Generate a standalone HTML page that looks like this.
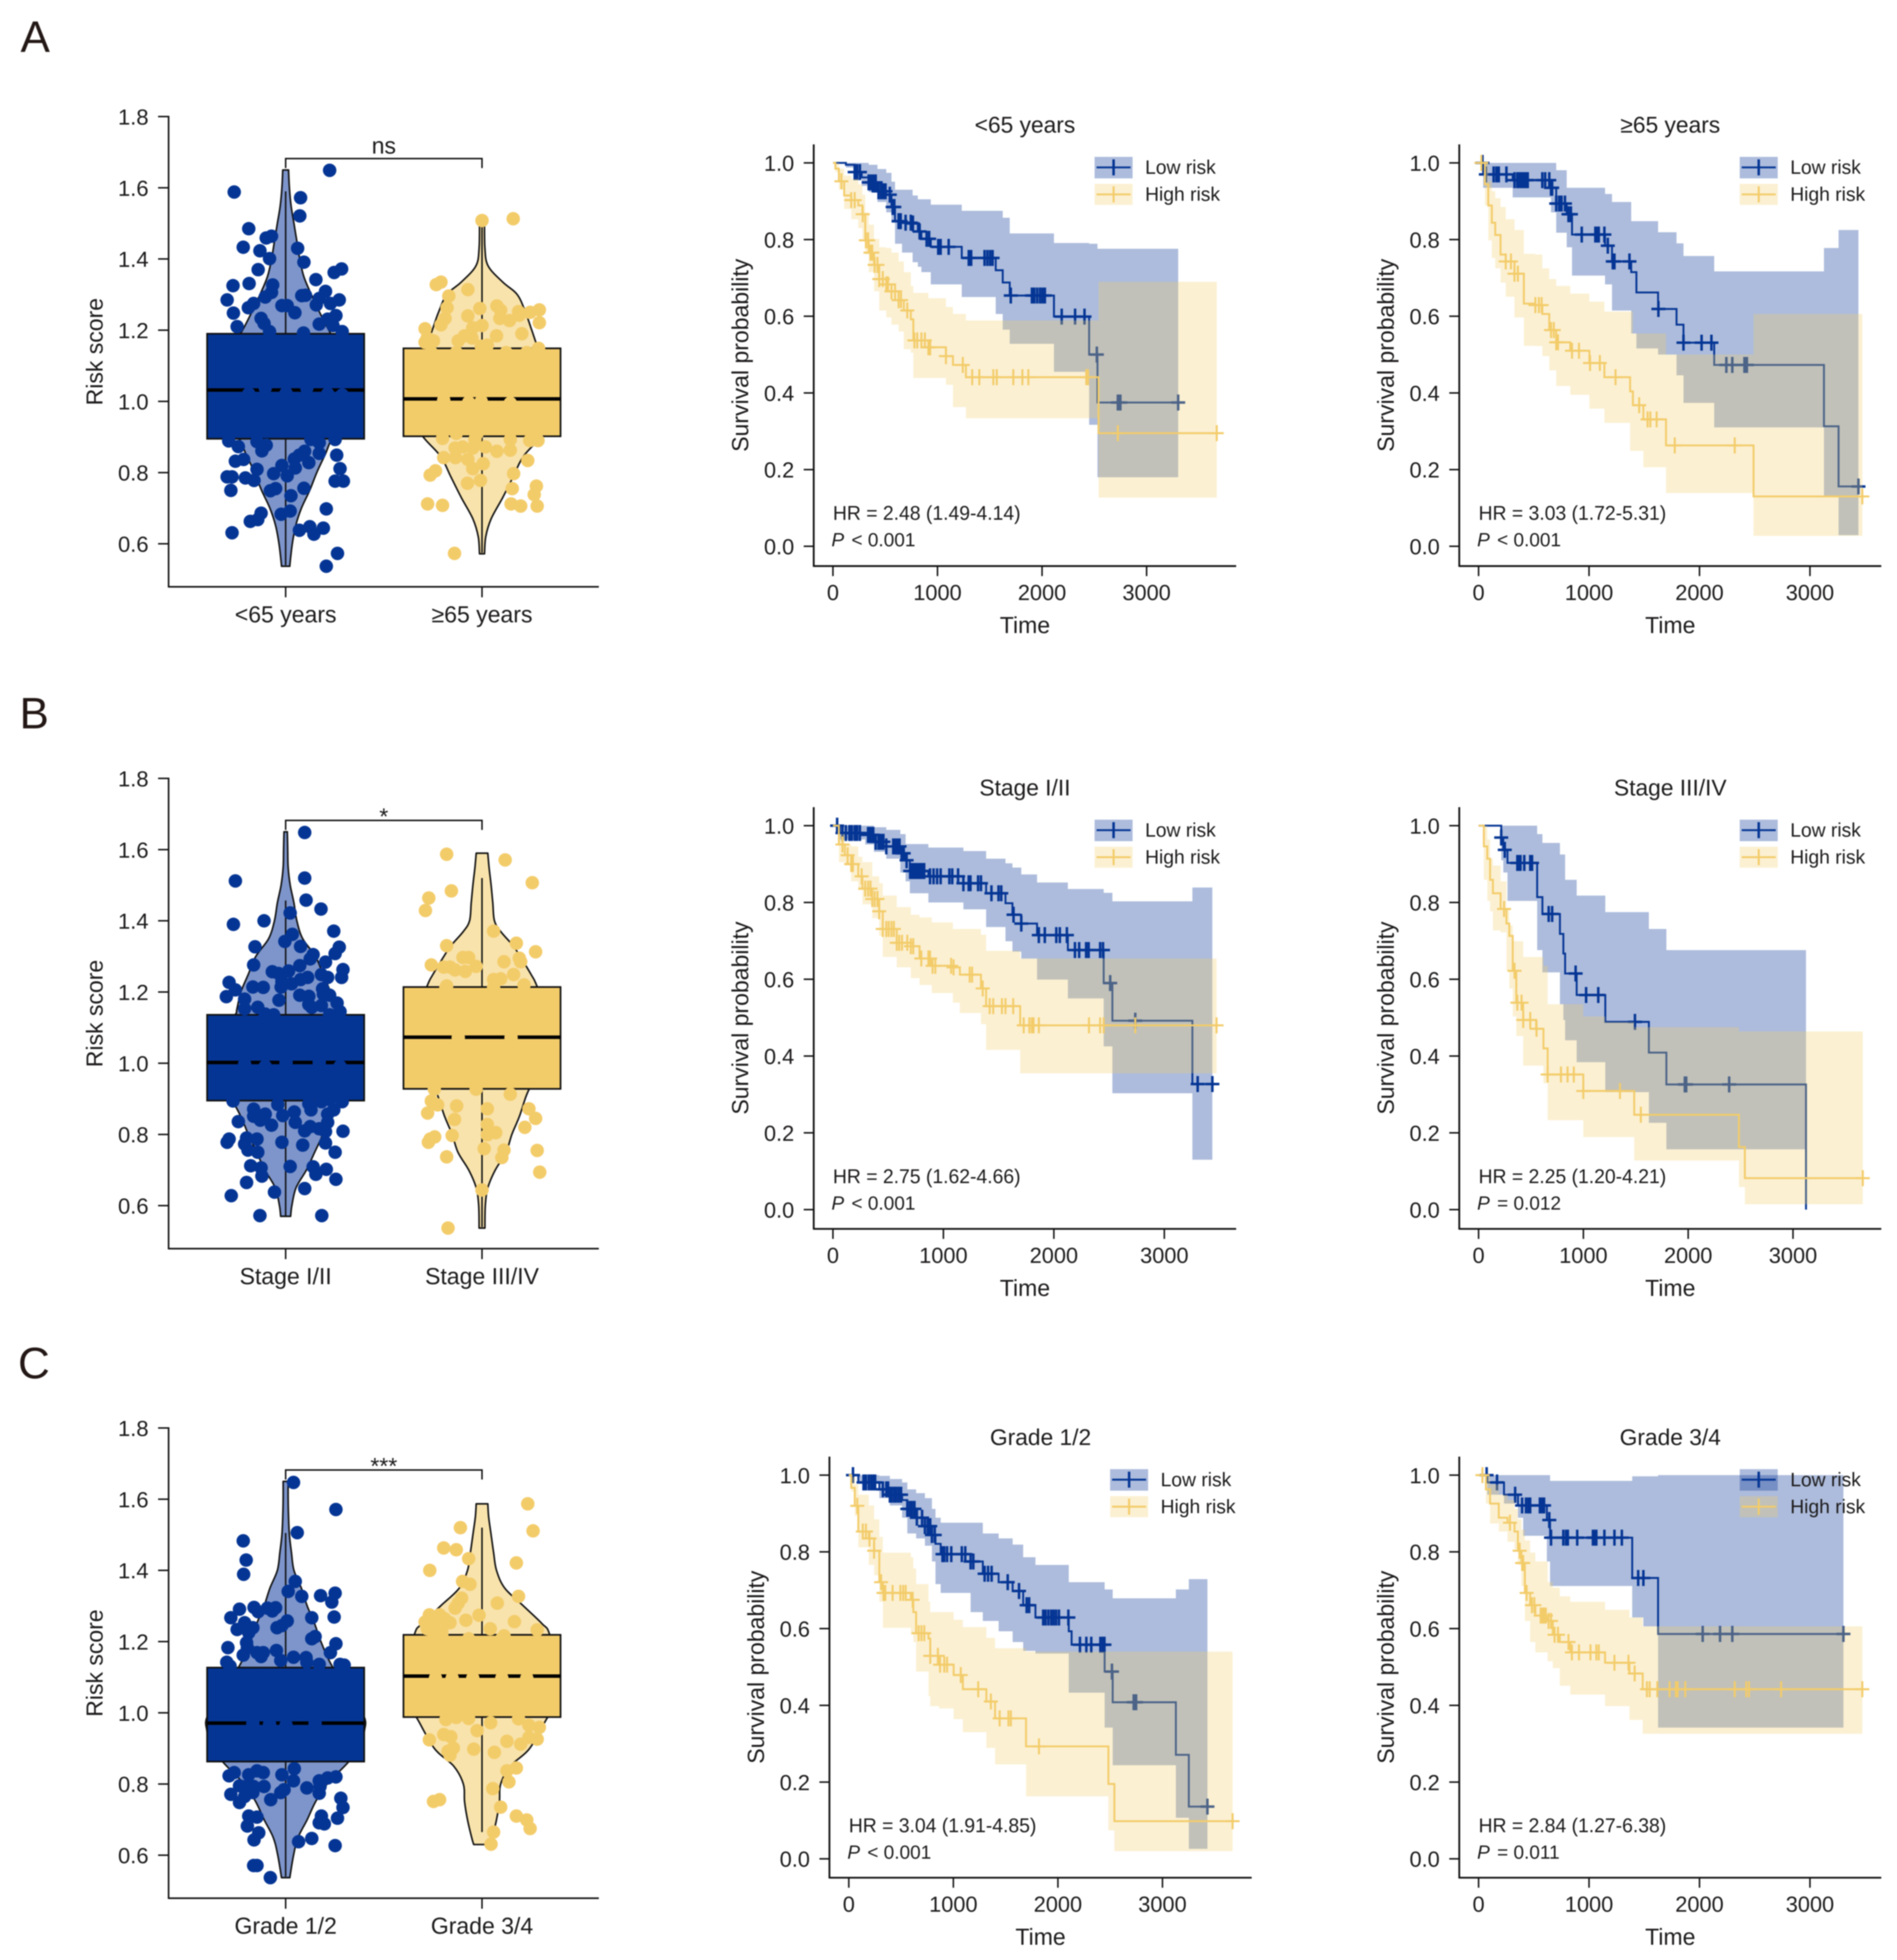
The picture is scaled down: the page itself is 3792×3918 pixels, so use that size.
<!DOCTYPE html>
<html lang="en">
<head>
<meta charset="utf-8">
<title>Risk score and survival by subgroup</title>
<style>
html,body{margin:0;padding:0;background:#fff;}
svg{display:block;filter:blur(1px);}
text{font-family:"Liberation Sans",Arial,sans-serif;fill:#1c1a1a;}
</style>
</head>
<body>
<svg id="figure" xmlns="http://www.w3.org/2000/svg" width="3792" height="3918" viewBox="0 0 3792 3918">
<rect x="0" y="0" width="3792" height="3918" fill="#ffffff"/>
</svg>
<script>
/* ---------- shared ticks and labels ---------- */
const scoreTicks = [0.6, 0.8, 1.0, 1.2, 1.4, 1.6, 1.8];
const survTicks = [0, 0.2, 0.4, 0.6, 0.8, 1.0];
const timeTicks = [0, 1000, 2000, 3000];
const legendLabels = ['Low risk', 'High risk'];
const categoriesA = ['<65 years', '\u226565 years'];
const categoriesB = ['Stage I/II', 'Stage III/IV'];
const categoriesC = ['Grade 1/2', 'Grade 3/4'];

/* ---------- box plot summaries: [q1, median, q3] ---------- */
const boxA1 = [0.895, 1.032, 1.19];
const boxA2 = [0.902, 1.007, 1.149];
const boxB1 = [0.895, 1.002, 1.136];
const boxB2 = [0.928, 1.073, 1.214];
const boxC1 = [0.863, 0.971, 1.127];
const boxC2 = [0.988, 1.103, 1.219];
/* whiskers: [low, high] */
const whiskerA1 = [0.54, 1.59];
const whiskerA2 = [0.575, 1.51];
const whiskerB1 = [0.57, 1.457];
const whiskerB2 = [0.54, 1.52];
const whiskerC1 = [0.54, 1.505];
const whiskerC2 = [0.665, 1.52];

/* ---------- violin density profiles ---------- */
const violinLevelA1 = [1.65,1.6,1.55,1.5,1.45,1.4,1.35,1.3,1.25,1.2,1.15,1.1,1.05,1.0,.95,.9,.85,.8,.75,.7,.65,.6,.55,.537];
const violinDensityA1 = [7,9,13,20,27,34,44,62,82,104,130,150,165,170,160,115,95,75,58,38,24,16,11,10];
const violinLevelA2 = [1.508,1.43,1.38,1.335,1.3,1.25,1.2,1.15,1.1,1.0,.95,.902,.846,.788,.73,.67,.62,.572];
const violinDensityA2 = [6,7,15,50,85,105,120,135,155,170,160,143,100,75,50,22,9,6];
const violinLevelB1 = [1.65,1.6,1.55,1.5,1.45,1.4,1.35,1.3,1.25,1.2,1.15,1.135,1.05,1.0,.95,.895,.85,.8,.75,.7,.65,.6,.57];
const violinDensityB1 = [4,5,6,11,20,27,41,72,90,108,118,122,165,175,170,130,108,90,70,50,25,15,12];
const violinLevelB2 = [1.59,1.55,1.5,1.45,1.4,1.37,1.33,1.3,1.25,1.215,1.1,1.0,.93,.85,.8,.75,.7,.65,.6,.537];
const violinDensityB2 = [14,17,22,26,30,45,75,92,118,133,170,160,115,90,72,58,32,14,8,7];
const violinLevelC1 = [1.65,1.6,1.55,1.5,1.45,1.4,1.35,1.3,1.25,1.2,1.125,1.0,.95,.9,.86,.8,.75,.7,.65,.6,.537];
const violinDensityC1 = [6,6,7,9,14,20,38,52,70,85,115,185,190,175,150,100,72,52,30,19,10];
const violinLevelC2 = [1.587,1.55,1.5,1.45,1.4,1.35,1.3,1.25,1.22,1.1,1.0,.985,.9,.85,.8,.75,.7,.65,.63];
const violinDensityC2 = [14,16,22,28,35,55,100,145,163,185,170,157,115,68,45,42,35,25,20];

/* ---------- scatter points: horizontal jitter (category units) and risk score ---------- */
const jitterA1 = [-.262,.224,.076,.072,-.188,-.216,-.099,-.072,-.131,.061,-.082,.093,-.14,.285,.247,.154,-.268,-.186,-.066,-.072,-.104,.203,.101,.082,-.298,.273,.228,.171,.156,-.019,.008,-.163,-.19,-.266,.047,.256,-.125,-.11,-.247,.214,.171,.241,.091,-.082,.288,-.29,-.241,-.146,-.099,-.121,.129,.171,.252,.097,.171,.26,.07,.044,-.214,-.256,.118,-.019,.277,.049,-.146,-.061,.008,-.298,-.273,-.205,-.161,.252,.294,.093,-.051,-.078,-.279,.027,.207,.023,-.125,-.023,-.142,-.18,.192,.123,.07,.144,-.273,.264,.207,-.188,.002,.214,.288,-.104,.108];
const scoreA1 = [1.588,1.649,1.572,1.521,1.485,1.433,1.459,1.464,1.423,1.43,1.401,1.391,1.37,1.372,1.362,1.342,1.325,1.331,1.327,1.306,1.293,1.309,1.298,1.297,1.285,1.285,1.275,1.289,1.271,1.269,1.269,1.275,1.263,1.248,1.249,1.241,1.233,1.219,1.21,1.231,1.217,1.213,1.192,1.196,1.196,.889,.873,.887,.877,.861,.893,.884,.893,.86,.854,.849,.849,.838,.837,.832,.828,.82,.811,.813,.809,.797,.791,.788,.788,.785,.778,.776,.776,.756,.755,.749,.75,.735,.698,.692,.686,.683,.668,.663,.644,.648,.638,.627,.631,.573,.537,1.021,1.023,1.021,1.018,1.038,1.038];
const jitterA2 = [0,.159,-.209,-.233,-.072,-.169,-.178,-.011,.076,.095,.292,.245,.186,.19,-.072,-.188,.091,.14,-.209,-.29,.292,0,-.047,.203,.074,-.279,-.247,-.121,-.051,-.089,-.004,.027,.288,-.29,-.201,-.036,.243,.285,.144,.144,-.099,-.137,-.047,.017,.076,-.195,-.135,-.072,.233,.006,-.047,-.237,-.264,.161,-.074,-.008,.277,.154,.266,-.277,-.201,.148,.197,.281,-.14,-.195,-.068,.144,-.004,-.258,-.131,.123,.228,.027,-.131,-.025];
const scoreA2 = [1.508,1.513,1.335,1.328,1.314,1.296,1.263,1.261,1.268,1.256,1.257,1.25,1.252,1.242,1.24,1.233,1.233,1.227,1.215,1.204,1.221,1.213,1.207,1.19,1.184,1.178,1.17,1.17,1.178,1.184,1.155,1.158,1.149,1.166,.896,.893,.89,.89,.893,.863,.872,.869,.869,.872,.86,.842,.842,.837,.834,.825,.811,.805,.793,.797,.77,.778,.762,.755,.738,.712,.708,.712,.706,.706,.573,1.003,.997,.995,1.0,1.137,1.137,1.137,1.137,1.137,.91,.91];
const jitterB1 = [.097,-.256,.097,.104,.18,.023,-.11,-.266,.245,.034,-.004,.273,-.156,.076,.252,.14,.125,.203,-.163,.072,.292,.015,-.068,-.036,.182,.214,.285,.112,.076,-.019,.03,-.023,-.288,-.256,-.167,-.114,.188,-.302,.192,.224,.072,.118,-.209,-.034,.262,.118,.182,.133,-.209,-.142,.277,-.104,-.061,.224,-.268,.224,.288,.182,.118,-.04,-.163,.245,.044,.129,-.163,-.104,-.015,.214,-.129,-.241,-.072,.049,.214,.125,.171,.203,.097,.292,-.288,-.298,-.199,-.146,-.019,-.209,.087,.203,-.192,-.142,.252,-.178,.023,.14,.207,-.125,.154,-.121,.256,-.199,.097,-.057,-.277,-.131,.184,-.209,.002,.171,-.104,.277];
const scoreB1 = [1.648,1.512,1.52,1.458,1.433,1.422,1.4,1.39,1.371,1.362,1.342,1.326,1.327,1.328,1.308,1.305,1.293,1.284,1.276,1.274,1.263,1.259,1.257,1.252,1.249,1.241,1.241,1.241,1.235,1.229,1.223,1.214,1.227,1.206,1.214,1.213,1.209,1.187,1.194,1.191,1.191,1.188,1.18,1.177,1.169,1.165,1.162,1.157,1.153,1.157,1.145,1.138,1.136,1.136,.894,.898,.892,.892,.886,.884,.871,.869,.863,.869,.851,.857,.853,.857,.84,.836,.826,.834,.834,.822,.816,.808,.81,.809,.787,.778,.79,.787,.778,.773,.77,.776,.756,.75,.75,.712,.71,.709,.702,.706,.688,.683,.674,.665,.648,.638,.628,.572,.572,.997,1.002,1.002,.991,.991];
const jitterB2 = [-.18,.118,.256,-.156,-.271,-.288,.059,.175,-.18,.273,-.068,-.097,.19,.197,.112,-.258,-.195,-.163,-.137,-.085,-.03,.161,.059,.095,.214,-.18,.144,-.03,-.243,-.258,-.226,.027,-.129,.239,-.277,.273,-.14,.027,.218,.07,.027,-.152,-.241,-.264,-.273,.011,.112,.281,.101,-.18,.294,0,-.173,-.121,.148,-.184,.059];
const scoreB2 = [1.587,1.571,1.507,1.484,1.464,1.429,1.371,1.337,1.33,1.313,1.297,1.297,1.295,1.285,1.285,1.276,1.27,1.27,1.262,1.258,1.272,1.249,1.235,1.237,1.22,1.217,.913,.927,.927,.894,.883,.872,.88,.872,.86,.845,.842,.828,.82,.805,.799,.797,.793,.787,.778,.76,.756,.755,.735,.737,.694,.644,.537,1.072,1.072,1.212,1.212];
const jitterC1 = [.04,.256,.059,-.216,-.201,-.214,.049,.252,.013,.178,.082,.235,-.235,-.161,-.093,-.051,-.068,-.14,.247,-.279,.133,.008,-.209,-.019,-.167,-.044,-.247,-.188,.133,.15,-.199,.256,-.294,-.195,-.146,-.114,-.047,-.216,-.125,.228,.04,.104,-.3,-.025,.171,.108,.277,.298,-.283,-.262,-.288,-.188,-.146,-.114,.044,-.019,.256,.214,.171,.04,-.188,-.235,-.11,-.163,.108,.175,-.008,-.025,-.167,-.279,.171,-.209,-.076,-.235,.281,.292,-.188,-.146,.182,.264,.171,.197,-.195,-.137,-.161,.133,.066,.252,-.163,-.146,-.078,-.167,-.082,.15,.002];
const scoreC1 = [1.647,1.571,1.506,1.483,1.429,1.389,1.369,1.336,1.341,1.329,1.327,1.311,1.291,1.296,1.294,1.295,1.286,1.284,1.269,1.267,1.267,1.258,1.253,1.245,1.239,1.239,1.234,1.225,1.208,1.214,1.197,1.194,1.183,1.183,1.169,1.169,1.175,1.162,1.158,1.169,1.156,1.155,1.142,1.147,1.136,1.142,1.136,1.134,1.131,.832,.823,.826,.837,.832,.843,.826,.82,.817,.809,.809,.798,.795,.793,.793,.789,.793,.784,.776,.776,.771,.774,.765,.756,.748,.76,.734,.71,.707,.71,.704,.691,.688,.682,.663,.643,.647,.638,.627,.571,.571,.537,.97,.968,.97,.965];
const jitterC2 = [.233,-.11,.26,-.195,-.131,-.068,.175,-.266,-.099,-.061,.186,-.104,-.121,.078,-.137,-.015,-.268,-.216,-.19,-.29,-.082,-.163,.165,-.247,.042,.281,-.205,-.279,-.247,.112,-.205,-.184,-.131,-.068,.044,.186,.239,.292,-.025,-.195,-.159,.239,.281,-.268,.127,.197,-.146,-.173,-.163,-.042,.063,.175,.127,.137,.055,-.216,-.247,.095,.175,.228,.245,.059,.046,-.237,-.047,.101,.228,-.152,-.068,.101,-.152];
const scoreC2 = [1.587,1.52,1.511,1.463,1.458,1.433,1.421,1.4,1.369,1.361,1.327,1.322,1.308,1.308,1.294,1.274,1.275,1.275,1.264,1.255,1.26,1.253,1.256,1.245,1.236,1.233,1.23,1.236,1.225,1.216,1.219,.981,.987,.984,.972,.983,.965,.959,.95,.939,.933,.931,.926,.924,.92,.912,.901,.892,.881,.898,.889,.845,.837,.806,.787,.756,.751,.735,.71,.699,.675,.665,.631,1.097,1.097,1.097,1.097,1.097,1.208,1.208,.992];

/* ---------- Kaplan-Meier curves: event times, survival, CI bounds, censor times ---------- */
const a2LowTime = [0,124,208,275,342,426,510,560,594,661,762,812,846,936,1232,1557,1624,1691,2114,2450,2530];
const a2LowSurv = [1,.995,.976,.962,.949,.926,.917,.885,.848,.844,.842,.821,.802,.781,.752,.72,.688,.654,.599,.5,.375];
const a2LowUpper = [1,1,1,1,.995,.984,.974,.951,.93,.93,.915,.905,.905,.891,.875,.875,.857,.816,.791,.789,.776];
const a2LowLower = [1,.988,.967,.94,.924,.898,.871,.844,.789,.766,.741,.729,.715,.683,.65,.606,.565,.528,.455,.317,.18];
const a2LowCensor = [208,232,258,342,366,389,409,436,460,483,503,544,571,587,628,648,695,745,765,829,896,920,1007,1030,1107,1299,1322,1450,1477,1503,1527,1701,1903,1926,1953,1980,2004,2027,2188,2316,2406,2524,2725,2749,3302];
const a2HighTime = [0,23,57,107,175,242,282,309,342,393,443,510,560,628,678,745,769,913,1081,1148,1272,2540];
const a2HighSurv = [1,.985,.952,.915,.903,.889,.866,.798,.766,.734,.697,.683,.665,.642,.615,.592,.537,.519,.496,.473,.441,.295];
const a2HighUpper = [1,1,.985,.967,.958,.944,.917,.871,.839,.802,.78,.778,.766,.743,.715,.679,.661,.647,.624,.606,.589,.69];
const a2HighLower = [1,.976,.93,.88,.853,.83,.802,.761,.715,.665,.615,.597,.578,.56,.514,.505,.439,.439,.421,.363,.334,.127];
const a2HighCensor = [81,175,208,285,315,336,359,376,399,426,443,477,510,527,560,594,628,651,711,779,806,846,879,913,930,1081,1242,1332,1400,1534,1567,1725,1812,1869,2423,2440,2725,3671];

const a3LowTime = [0,41,309,656,703,798,846,1145,1208,1382,1429,1625,1792,1855,2133,3127,3259];
const a3LowSurv = [1,.97,.955,.935,.894,.866,.813,.784,.743,.715,.662,.619,.578,.531,.473,.313,.156];
const a3LowUpper = [1,1,1,1,.981,.935,.935,.919,.898,.848,.848,.819,.79,.757,.717,.778,.825];
const a3LowLower = [1,.935,.91,.871,.818,.78,.706,.683,.615,.555,.516,.5,.446,.374,.31,.13,.029];
const a3LowCensor = [35,66,136,161,183,252,325,350,366,382,398,413,429,445,577,603,640,656,666,703,729,751,782,814,836,934,1057,1076,1088,1139,1170,1215,1230,1366,1628,1855,2019,2108,2243,2297,2407,2429,3439];
const a3HighTime = [0,57,88,120,151,199,246,325,410,514,577,640,703,830,1003,1139,1372,1397,1492,1697,2489];
const a3HighSurv = [1,.944,.889,.844,.812,.761,.743,.711,.633,.629,.606,.564,.532,.51,.478,.441,.404,.368,.331,.263,.13];
const a3HighUpper = [1,1,.953,.926,.908,.885,.853,.825,.763,.761,.725,.697,.679,.659,.638,.612,.612,.555,.555,.5,.606];
const a3HighLower = [1,.889,.798,.752,.725,.688,.651,.597,.523,.522,.496,.459,.418,.395,.359,.322,.249,.249,.206,.139,.027];
const a3HighCensor = [25,246,293,325,356,514,546,571,656,681,703,719,846,909,1009,1098,1240,1454,1530,1555,1612,1776,2319,3474];

const b2LowTime = [0,64,292,371,483,610,658,696,864,1181,1387,1562,1625,1705,1848,2127,2451,2530,3254];
const b2LowSurv = [1,.981,.976,.958,.946,.928,.91,.882,.868,.85,.824,.798,.768,.745,.715,.676,.59,.492,.327];
const b2LowUpper = [1,1,1,.996,.989,.978,.952,.952,.943,.934,.914,.902,.891,.873,.852,.835,.825,.803,.839];
const b2LowLower = [1,.964,.951,.932,.914,.878,.855,.824,.8,.782,.736,.699,.672,.654,.599,.55,.425,.303,.13];
const b2LowCensor = [38,86,117,149,171,197,219,244,318,333,349,365,387,413,435,457,483,546,565,584,603,622,641,667,699,714,730,746,762,778,794,810,826,879,911,943,975,1054,1080,1133,1181,1229,1245,1314,1340,1435,1499,1524,1635,1705,1864,1918,2022,2054,2118,2191,2229,2292,2315,2419,2445,2510,2737,3302,3435];
const b2HighTime = [0,54,108,165,229,267,356,419,451,578,705,784,895,1086,1149,1340,1387,1695];
const b2HighSurv = [1,.951,.923,.9,.868,.836,.809,.777,.731,.695,.686,.654,.635,.631,.612,.576,.53,.48];
const b2HighUpper = [1,.978,.951,.946,.919,.905,.868,.85,.818,.788,.768,.761,.748,.731,.731,.716,.674,.654];
const b2HighLower = [1,.905,.896,.855,.832,.795,.759,.713,.658,.631,.603,.585,.564,.539,.512,.483,.416,.355];
const b2HighCensor = [86,133,165,181,260,292,318,340,356,378,403,419,451,483,505,530,552,578,600,625,673,705,727,800,864,879,902,927,1070,1092,1238,1260,1356,1419,1451,1530,1562,1632,1727,1778,1800,1816,1864,2318,2419,2451,2737,3473];

const b3LowTime = [0,216,236,276,559,609,776,809,826,936,1209,1625,1792,2484,3124];
const b3LowSurv = [1,.969,.937,.903,.814,.77,.718,.667,.615,.559,.489,.409,.326,.326,0];
const b3LowUpper = [1,1,1,1,.978,.955,.925,.925,.859,.818,.775,.731,.676,.676,.676];
const b3LowLower = [1,.91,.878,.804,.676,.618,.535,.494,.441,.384,.306,.226,.157,.157,.157];
const b3LowCensor = [216,250,370,386,400,436,493,510,669,702,926,1026,1142,1492,1968,1981,2391];
const b3HighTime = [0,50,83,110,137,210,266,293,326,360,426,549,619,659,999,1209,1485,2484,2541];
const b3HighSurv = [1,.946,.914,.859,.824,.783,.745,.713,.622,.539,.494,.471,.42,.352,.309,.309,.247,.163,.082];
const b3HighUpper = [1,1,.964,.914,.896,.855,.786,.74,.699,.699,.658,.658,.635,.535,.503,.489,.475,.464,.464];
const b3HighLower = [1,.859,.804,.777,.727,.722,.622,.576,.503,.452,.375,.375,.329,.233,.189,.189,.128,.059,.014];
const b3HighCensor = [243,343,370,410,426,493,553,659,786,849,909,999,1349,1548,3666];

const c2LowTime = [0,91,292,393,510,560,644,728,795,829,879,1165,1282,1433,1567,1668,1785,2104,2131,2447,2524,3128,3252];
const c2LowSurv = [1,.981,.963,.949,.935,.912,.889,.867,.844,.821,.794,.775,.743,.721,.698,.661,.629,.593,.558,.488,.408,.271,.136];
const c2LowUpper = [1,1,.998,.99,.981,.963,.953,.94,.912,.889,.876,.876,.848,.835,.819,.786,.766,.721,.721,.702,.679,.702,.729];
const c2LowLower = [1,.981,.94,.921,.889,.848,.835,.816,.775,.716,.693,.643,.62,.593,.565,.542,.535,.433,.433,.342,.244,.107,.026];
const c2LowCensor = [40,141,164,191,215,232,252,326,359,376,393,409,433,453,477,500,560,584,604,628,651,701,728,755,779,795,822,896,913,940,980,1081,1114,1165,1191,1299,1332,1366,1520,1628,1701,1725,1859,1882,1909,1936,1959,1983,2010,2100,2211,2272,2319,2406,2430,2445,2517,2725,2748,3430];
const c2HighTime = [0,23,57,91,191,242,292,326,594,617,644,762,779,863,1003,1091,1316,1399,1695,2483,2540];
const c2HighSurv = [1,.967,.92,.853,.835,.803,.721,.693,.675,.643,.588,.574,.529,.506,.479,.442,.41,.366,.293,.195,.098];
const c2HighUpper = [1,.995,.976,.949,.921,.885,.839,.798,.786,.757,.716,.67,.643,.643,.623,.604,.576,.549,.54,.54,.54];
const c2HighLower = [1,.958,.894,.812,.766,.739,.67,.602,.584,.565,.488,.424,.398,.392,.364,.33,.289,.246,.163,.074,.02];
const c2HighCensor = [81,134,164,198,242,309,332,349,419,493,520,544,611,668,695,722,779,852,873,913,940,1071,1238,1359,1443,1527,1550,1819,3671];

const c3LowTime = [0,79,230,357,404,618,647,1391,1492,1625];
const c3LowSurv = [1,.981,.949,.921,.921,.883,.837,.732,.732,.586];
const c3LowUpper = [1,1,1,1,1,1,.985,.997,.997,1];
const c3LowLower = [1,.949,.926,.889,.842,.775,.711,.629,.606,.342];
const c3LowCensor = [73,167,331,394,429,451,467,555,577,593,640,656,767,792,808,893,1035,1050,1066,1139,1230,1297,1445,1492,2029,2186,2297,3303];
const c3HighTime = [0,66,104,183,262,325,356,388,419,467,514,625,672,735,830,1145,1366,1486];
const c3HighSurv = [1,.963,.926,.889,.876,.853,.803,.771,.693,.661,.634,.62,.584,.565,.538,.511,.483,.442];
const c3HighUpper = [1,1,.976,.949,.935,.912,.885,.858,.83,.798,.775,.721,.707,.684,.67,.649,.629,.606];
const c3HighLower = [1,.926,.874,.853,.826,.807,.766,.711,.62,.565,.538,.515,.497,.451,.428,.398,.362,.326];
const c3HighCensor = [35,284,372,394,404,435,483,505,562,577,593,609,634,656,688,719,814,845,909,1013,1066,1088,1230,1357,1413,1524,1549,1618,1729,1786,1802,1871,2319,2423,2448,2739,3474];

/* ---------- drawing helpers ---------- */
const SVGNS = 'http://www.w3.org/2000/svg';
const BLUE = '#053594';
const YELLOW = '#F3CC6A';
const INK = '#111111';
const root = document.getElementById('figure');

function mk(tag, parent, name, styles) {
  const el = document.createElementNS(SVGNS, tag);
  
  
  for (const k in styles) { el.setAttribute(k, styles[k]); }
  parent.appendChild(el);
  return el;
}
function label(parent, name, str, styles) {
  const el = mk('text', parent, name, styles);
  el.textContent = str;
  return el;
}
function seg(parent, name, x1, y1, x2, y2, w, color) {
  return mk('line', parent, name, {x1: x1, y1: y1, x2: x2, y2: y2, stroke: color || INK, 'stroke-width': w || 3});
}
function smoothSide(pts) {
  let d = '';
  for (let i = 0; i < pts.length - 1; i++) {
    const p0 = pts[Math.max(0, i - 1)], p1 = pts[i], p2 = pts[i + 1], p3 = pts[Math.min(pts.length - 1, i + 2)];
    const c1x = p1[0] + (p2[0] - p0[0]) / 6, c1y = p1[1] + (p2[1] - p0[1]) / 6;
    const c2x = p2[0] - (p3[0] - p1[0]) / 6, c2y = p2[1] - (p3[1] - p1[1]) / 6;
    d += 'C' + c1x.toFixed(1) + ' ' + c1y.toFixed(1) + ' ' + c2x.toFixed(1) + ' ' + c2y.toFixed(1) + ' ' + p2[0].toFixed(1) + ' ' + p2[1].toFixed(1);
  }
  return d;
}

/* ---------- violin + box + jitter panel ---------- */
function drawBoxPanel(o) {
  const g = mk('g', root, o.id + '-risk-score-panel', {});
  const y = v => o.top + (1.8 - v) * 711.7;
  const cx = [571, 963.5];
  const step = cx[1] - cx[0];
  const densityPx = d => d * 0.829;
  const axisY = o.top + 940;

  o.groups.forEach((grp, i) => {
    const col = i === 0 ? BLUE : YELLOW;
    const soft = i === 0 ? '#7D95CB' : '#F8E3AC';
    const gg = mk('g', g, 'group-' + (i + 1) + '-distribution', {});
    const right = grp.levels.map((v, k) => [cx[i] + densityPx(grp.density[k]), y(v)]);
    const left = grp.levels.map((v, k) => [cx[i] - densityPx(grp.density[k]), y(v)]).reverse();
    const d = 'M' + right[0][0] + ' ' + right[0][1] + smoothSide(right) + 'L' + left[0][0] + ' ' + left[0][1] + smoothSide(left) + 'Z';
    mk('path', gg, 'violin-outline', {d: d, fill: soft, stroke: INK, 'stroke-width': 3.2, 'stroke-linejoin': 'round'});
    seg(gg, 'whisker', cx[i], y(grp.whisker[0]), cx[i], y(grp.whisker[1]), 3, INK);
    const hw = 157;
    mk('rect', gg, 'box-iqr', {x: cx[i] - hw, y: y(grp.box[2]), width: hw * 2, height: y(grp.box[0]) - y(grp.box[2]), fill: col, stroke: INK, 'stroke-width': 3.4});
    seg(gg, 'median-line', cx[i] - hw, y(grp.box[1]), cx[i] + hw, y(grp.box[1]), 7, '#000000');
    grp.jitter.forEach((j, k) => {
      mk('circle', gg, 'risk-point', {cx: cx[i] + j * step, cy: y(grp.score[k]), r: 13.5, fill: col});
    });
  });

  /* axes */
  seg(g, 'y-axis-line', 337, y(1.8) - 1.5, 337, axisY + 1.5, 3.2);
  seg(g, 'x-axis-line', 337, axisY, 1197, axisY, 3.2);
  scoreTicks.forEach(v => {
    seg(g, 'y-tick', 316, y(v), 337, y(v), 3);
    label(g, 'y-tick-label', v.toFixed(1), {x: 297, y: y(v) + 16, 'text-anchor': 'end', 'font-size': 44});
  });
  cx.forEach((x, i) => {
    seg(g, 'x-tick', x, axisY, x, axisY + 21, 3);
    label(g, 'x-tick-label', o.categories[i], {x: x, y: axisY + 71, 'text-anchor': 'middle', 'font-size': 46});
  });
  label(g, 'y-axis-title', 'Risk score', {x: 0, y: 0, 'text-anchor': 'middle', 'font-size': 46, transform: 'translate(205 ' + (o.top + 470) + ') rotate(-90)'});

  /* significance bracket */
  const by = y(1.682);
  mk('path', g, 'significance-bracket', {d: 'M' + cx[0] + ' ' + (by + 19) + 'V' + by + 'H' + cx[1] + 'V' + (by + 19), fill: 'none', stroke: INK, 'stroke-width': 3});
  label(g, 'significance-label', o.sig, {x: (cx[0] + cx[1]) / 2, y: by + o.sigDy, 'text-anchor': 'middle', 'font-size': 46});
}

/* ---------- Kaplan-Meier panel ---------- */
function stepAt(times, values, t) {
  let v = values[0];
  for (let i = 0; i < times.length; i++) { if (times[i] <= t) { v = values[i]; } }
  return v;
}
function drawCurve(g, c, x, y, col, fillOpacity, curveName, markWidth) {
  const last = Math.max(c.time[c.time.length - 1], c.censor[c.censor.length - 1] || 0);
  /* confidence band */
  let up = 'M' + x(c.time[0]) + ' ' + y(c.upper[0]);
  let lowBack = '';
  for (let i = 1; i < c.time.length; i++) {
    up += 'H' + x(c.time[i]).toFixed(1) + 'V' + y(c.upper[i]).toFixed(1);
  }
  up += 'H' + x(last).toFixed(1);
  lowBack += 'V' + y(c.lower[c.lower.length - 1]).toFixed(1);
  for (let i = c.time.length - 1; i > 0; i--) {
    lowBack += 'H' + x(c.time[i]).toFixed(1) + 'V' + y(c.lower[i - 1]).toFixed(1);
  }
  lowBack += 'H' + x(c.time[0]) + 'Z';
  mk('path', g, curveName + '-confidence-band', {d: up + lowBack, fill: col, 'fill-opacity': fillOpacity, stroke: 'none'});
  /* survival step line */
  let d = 'M' + x(c.time[0]) + ' ' + y(c.surv[0]);
  for (let i = 1; i < c.time.length; i++) {
    d += 'H' + x(c.time[i]).toFixed(1) + 'V' + y(c.surv[i]).toFixed(1);
  }
  d += 'H' + x(last).toFixed(1);
  mk('path', g, curveName + '-survival-line', {d: d, fill: 'none', stroke: col, 'stroke-width': 3.8});
  /* censor marks */
  c.censor.forEach(t => {
    const cx = x(t), cy = y(stepAt(c.time, c.surv, t));
    mk('path', g, curveName + '-censor-mark', {d: 'M' + (cx - 14) + ' ' + cy + 'H' + (cx + 14) + 'M' + cx + ' ' + (cy - 16) + 'V' + (cy + 16), fill: 'none', stroke: col, 'stroke-width': markWidth});
  });
}
function drawKM(o) {
  const g = mk('g', root, o.id + '-survival-panel', {});
  const x = t => o.x0 + t * o.k;
  const y = s => o.zero - (o.zero - o.one) * s;
  const midX = (o.axisX + o.right) / 2;

  drawCurve(g, o.low, x, y, BLUE, 0.33, 'low-risk', 5);
  drawCurve(g, o.high, x, y, YELLOW, 0.3, 'high-risk', 4);

  /* axes */
  seg(g, 'y-axis-line', o.axisX, o.one - 37, o.axisX, o.base + 1.5, 3.6, INK);
  seg(g, 'x-axis-line', o.axisX, o.base, o.right, o.base, 3.6, INK);
  survTicks.forEach(v => {
    seg(g, 'y-tick', o.axisX - 20, y(v), o.axisX, y(v), 3, INK);
    label(g, 'y-tick-label', v.toFixed(1), {x: o.axisX - 39, y: y(v) + 16, 'text-anchor': 'end', 'font-size': 43.5});
  });
  timeTicks.forEach(t => {
    seg(g, 'x-tick', x(t), o.base, x(t), o.base + 20, 3, INK);
    label(g, 'x-tick-label', String(t), {x: x(t), y: o.base + 68, 'text-anchor': 'middle', 'font-size': 43.5});
  });
  label(g, 'panel-title', o.title, {x: midX, y: o.one - 60.5, 'text-anchor': 'middle', 'font-size': 45.5});
  label(g, 'x-axis-title', 'Time', {x: midX, y: o.base + 134, 'text-anchor': 'middle', 'font-size': 46});
  label(g, 'y-axis-title', 'Survival probability', {x: 0, y: 0, 'text-anchor': 'middle', 'font-size': 46, transform: 'translate(' + (o.axisX - 131) + ' ' + ((o.one - 37 + o.base) / 2) + ') rotate(-90)'});

  /* legend */
  const lx = o.right - 283;
  [[BLUE, 0.33, 5], [YELLOW, 0.3, 4]].forEach((st, i) => {
    const ly = o.one - 12 + i * 54;
    const lh = i === 0 ? 43 : 42;
    const lg = mk('g', g, 'legend-entry-' + (i === 0 ? 'low-risk' : 'high-risk'), {});
    mk('rect', lg, 'legend-swatch', {x: lx, y: ly, width: 76, height: lh, fill: st[0], 'fill-opacity': st[1]});
    seg(lg, 'legend-line', lx + 4, ly + 21, lx + 72, ly + 21, 3.8, st[0]);
    seg(lg, 'legend-mark', lx + 38, ly + 5, lx + 38, ly + 37, st[2], st[0]);
    label(lg, 'legend-label', legendLabels[i], {x: lx + 101, y: ly + 34, 'font-size': 38.5});
  });

  /* statistics */
  label(g, 'hazard-ratio', o.hr, {x: o.x0, y: o.zero - 53, 'font-size': 40, textLength: 375, lengthAdjust: 'spacingAndGlyphs'});
  const pLabel = mk('text', g, 'p-value', {x: o.x0 - 3, y: o.zero, 'font-size': 38});
  const pItalic = mk('tspan', pLabel, 'p-symbol', {'font-style': 'italic'});
  pItalic.textContent = 'P';
  const pVal = mk('tspan', pLabel, 'p-number', {x: o.x0 + o.pGap});
  pVal.textContent = o.p;
}

/* ---------- panel letters ---------- */
label(root, 'panel-letter-a', 'A', {x: 41, y: 104, 'font-size': 88, style: 'fill:#231815'});
label(root, 'panel-letter-b', 'B', {x: 39, y: 1456, 'font-size': 88, style: 'fill:#231815'});
label(root, 'panel-letter-c', 'C', {x: 36, y: 2755, 'font-size': 88, style: 'fill:#231815'});

/* ---------- build the figure ---------- */
drawBoxPanel({id: 'a', top: 233, sig: 'ns', sigDy: -10, categories: categoriesA, groups: [
  {levels: violinLevelA1, density: violinDensityA1, box: boxA1, whisker: whiskerA1, jitter: jitterA1, score: scoreA1},
  {levels: violinLevelA2, density: violinDensityA2, box: boxA2, whisker: whiskerA2, jitter: jitterA2, score: scoreA2}]});
drawBoxPanel({id: 'b', top: 1556, sig: '*', sigDy: 8, categories: categoriesB, groups: [
  {levels: violinLevelB1, density: violinDensityB1, box: boxB1, whisker: whiskerB1, jitter: jitterB1, score: scoreB1},
  {levels: violinLevelB2, density: violinDensityB2, box: boxB2, whisker: whiskerB2, jitter: jitterB2, score: scoreB2}]});
drawBoxPanel({id: 'c', top: 2854.5, sig: '***', sigDy: 8, categories: categoriesC, groups: [
  {levels: violinLevelC1, density: violinDensityC1, box: boxC1, whisker: whiskerC1, jitter: jitterC1, score: scoreC1},
  {levels: violinLevelC2, density: violinDensityC2, box: boxC2, whisker: whiskerC2, jitter: jitterC2, score: scoreC2}]});

drawKM({id: 'a2', title: '<65 years', hr: 'HR = 2.48 (1.49-4.14)', p: '< 0.001', pGap: 37, axisX: 1626.6, right: 2471, base: 1131.6, one: 325.6, zero: 1092, x0: 1665, k: 0.209,
  low: {time: a2LowTime, surv: a2LowSurv, upper: a2LowUpper, lower: a2LowLower, censor: a2LowCensor},
  high: {time: a2HighTime, surv: a2HighSurv, upper: a2HighUpper, lower: a2HighLower, censor: a2HighCensor}});
drawKM({id: 'a3', title: '\u226565 years', hr: 'HR = 3.03 (1.72-5.31)', p: '< 0.001', pGap: 37, axisX: 2917, right: 3760.6, base: 1131.6, one: 325.6, zero: 1092, x0: 2955.6, k: 0.2208,
  low: {time: a3LowTime, surv: a3LowSurv, upper: a3LowUpper, lower: a3LowLower, censor: a3LowCensor},
  high: {time: a3HighTime, surv: a3HighSurv, upper: a3HighUpper, lower: a3HighLower, censor: a3HighCensor}});
drawKM({id: 'b2', title: 'Stage I/II', hr: 'HR = 2.75 (1.62-4.66)', p: '< 0.001', pGap: 37, axisX: 1626.6, right: 2471, base: 2456.5, one: 1650.5, zero: 2418, x0: 1665, k: 0.2208,
  low: {time: b2LowTime, surv: b2LowSurv, upper: b2LowUpper, lower: b2LowLower, censor: b2LowCensor},
  high: {time: b2HighTime, surv: b2HighSurv, upper: b2HighUpper, lower: b2HighLower, censor: b2HighCensor}});
drawKM({id: 'b3', title: 'Stage III/IV', hr: 'HR = 2.25 (1.20-4.21)', p: '= 0.012', pGap: 37, axisX: 2917, right: 3760.6, base: 2456.5, one: 1650.5, zero: 2418, x0: 2955.6, k: 0.2095,
  low: {time: b3LowTime, surv: b3LowSurv, upper: b3LowUpper, lower: b3LowLower, censor: b3LowCensor},
  high: {time: b3HighTime, surv: b3HighSurv, upper: b3HighUpper, lower: b3HighLower, censor: b3HighCensor}});
drawKM({id: 'c2', title: 'Grade 1/2', hr: 'HR = 3.04 (1.91-4.85)', p: '< 0.001', pGap: 37, axisX: 1658, right: 2502, base: 3753.5, one: 2948.8, zero: 3715.7, x0: 1696.7, k: 0.209,
  low: {time: c2LowTime, surv: c2LowSurv, upper: c2LowUpper, lower: c2LowLower, censor: c2LowCensor},
  high: {time: c2HighTime, surv: c2HighSurv, upper: c2HighUpper, lower: c2HighLower, censor: c2HighCensor}});
drawKM({id: 'c3', title: 'Grade 3/4', hr: 'HR = 2.84 (1.27-6.38)', p: '= 0.011', pGap: 37, axisX: 2917, right: 3760.6, base: 3753.5, one: 2948.8, zero: 3715.7, x0: 2955.6, k: 0.2208,
  low: {time: c3LowTime, surv: c3LowSurv, upper: c3LowUpper, lower: c3LowLower, censor: c3LowCensor},
  high: {time: c3HighTime, surv: c3HighSurv, upper: c3HighUpper, lower: c3HighLower, censor: c3HighCensor}});
</script>
</body>
</html>
